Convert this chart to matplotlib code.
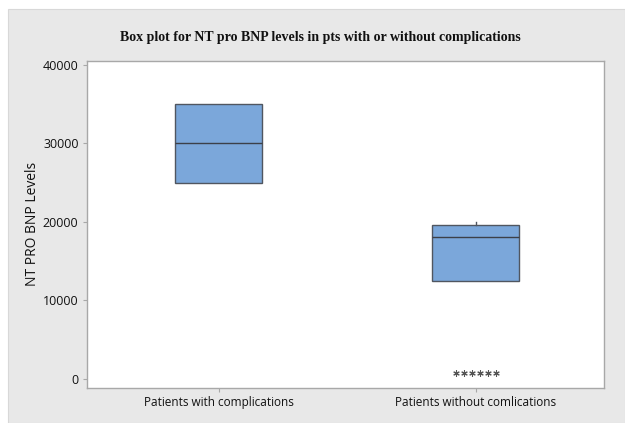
import matplotlib
matplotlib.use("Agg")
import matplotlib.pyplot as plt
from matplotlib.patches import Rectangle

# data
groups = ["Patients with complications", "Patients without comlications"]
q1 = [25000, 12500]
medians = [30000, 18100]
q3 = [35000, 19600]
whisker_low = [25000, 12500]
whisker_high = [35000, 20000]
outliers_g2 = [700, 700, 700, 700, 700, 700]

title = "Box plot for NT pro BNP levels in pts with or without complications"
ylabel = "NT PRO BNP Levels"
yticks = [0, 10000, 20000, 30000, 40000]

fig = plt.figure(figsize=(6.25, 4.23), dpi=100)
fig.patch.set_facecolor("white")

# gray panel behind the plot
fig.patches.append(Rectangle((8 / 625, 0), 1 - 8 / 625, 1 - 9 / 423,
                             transform=fig.transFigure, facecolor="#e8e8e8",
                             edgecolor="#d8d8d8", linewidth=0.8, zorder=-5))

ax = fig.add_axes([0.139, 0.083, 0.827, 0.773])
ax.set_facecolor("white")

stats = []
for i in range(len(groups)):
    stats.append({
        "q1": q1[i], "med": medians[i], "q3": q3[i],
        "whislo": whisker_low[i], "whishi": whisker_high[i],
        "fliers": [], "label": groups[i],
    })

positions = [1, 2]
ax.bxp(stats, positions=positions, widths=0.337, showcaps=False,
       showfliers=False, patch_artist=True,
       boxprops=dict(facecolor="#7ba7da", edgecolor="#505660", linewidth=1.0),
       medianprops=dict(color="#3c4048", linewidth=1.0),
       whiskerprops=dict(color="#505660", linewidth=1.0))

# tied outliers are spread out side by side, like Minitab does
n = len(outliers_g2)
spread = 0.031
xs = [positions[1] + (k - (n - 1) / 2) * spread for k in range(n)]
ax.scatter(xs, outliers_g2, marker=(6, 2, 0), s=16, color="#555555",
           linewidths=0.8, zorder=3)

ax.set_xlim(0.488, 2.498)
ax.set_ylim(-1150, 40500)
ax.set_yticks(yticks)
ax.set_yticklabels([str(v) for v in yticks])
ax.set_xticks(positions)
ax.set_xticklabels(groups)

for sp in ax.spines.values():
    sp.set_color("#a8a8a8")
    sp.set_linewidth(1.0)
ax.tick_params(axis="both", colors="#a8a8a8", length=3, width=0.8,
               labelcolor="#111111", pad=3)
ax.tick_params(axis="x", labelsize=8.5)
ax.tick_params(axis="y", labelsize=9)
for lab in ax.get_xticklabels() + ax.get_yticklabels():
    lab.set_family("Open Sans")

ax.set_ylabel(ylabel, family="Open Sans", fontsize=10, color="#111111")
ax.yaxis.set_label_coords(-0.091, 0.5)
fig.text(0.512, 0.912, title, ha="center", va="center",
         family="Liberation Serif", fontweight="bold", fontsize=10,
         color="#111111")

fig.savefig("out.png", dpi=100)
